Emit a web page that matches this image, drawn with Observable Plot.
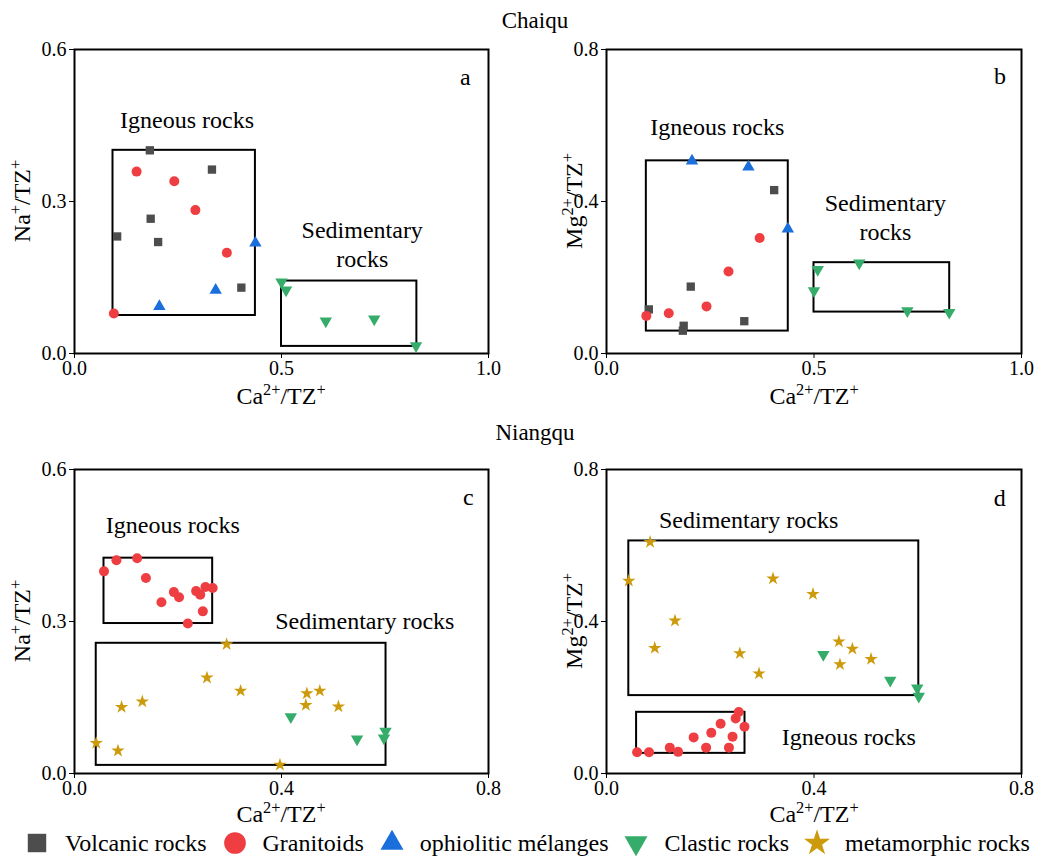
<!DOCTYPE html>
<html><head><meta charset="utf-8">
<script src="https://cdn.jsdelivr.net/npm/d3@7"></script>
<script src="https://cdn.jsdelivr.net/npm/@observablehq/plot@0.6"></script>
<style>
body{margin:0;background:#fff;}
#fig{position:relative;width:1037px;height:856px;font-family:"Liberation Serif","Times New Roman",serif;color:#000;overflow:hidden;background:#fff;}
.abs{position:absolute;white-space:nowrap;line-height:1;}
.title{font-size:23px;transform:translate(-50%,-50%);}
.xlab{font-size:24px;transform:translate(-50%,-50%);}
.ylab{font-size:24px;transform:translate(-50%,-50%) rotate(-90deg);}
sup{font-size:0.68em;line-height:0;vertical-align:0.55em;}
#legend{display:flex;align-items:center;font-size:24px;}
#legend svg{margin-right:15px;display:block;}
#legend span{margin-right:15px;}
</style>
</head><body><div id="fig"></div>
<script>
// ---------- Series names & colours ----------
const types = ["Volcanic rocks","Granitoids","ophiolitic mélanges","Clastic rocks","metamorphic rocks"];
const colors = ["#4d4d4d","#ee3e42","#1b6fdc","#36ac6b","#cc9a0a"];

// ---------- Panel a (Chaiqu, Na+/TZ+ vs Ca2+/TZ+) ----------
const aVolcanic = [[0.182,0.401],[0.332,0.363],[0.184,0.266],[0.103,0.231],[0.202,0.220],[0.403,0.130]];
const aGranitoids = [[0.150,0.359],[0.241,0.340],[0.292,0.283],[0.368,0.199],[0.095,0.079]];
const aOphiolitic = [[0.437,0.218],[0.341,0.125],[0.205,0.093]];
const aClastic = [[0.500,0.141],[0.511,0.125],[0.607,0.064],[0.724,0.068],[0.825,0.015]];
const aBoxes = [[0.093,0.437,0.075,0.401],[0.500,0.827,0.014,0.143]];
const aLabels = [["Igneous rocks",0.272,0.463],["Sedimentary\nrocks",0.695,0.218],["a",0.944,0.549]];

// ---------- Panel b (Chaiqu, Mg2+/TZ+ vs Ca2+/TZ+) ----------
const bVolcanic = [[0.102,0.116],[0.203,0.176],[0.186,0.073],[0.184,0.060],[0.404,0.430],[0.332,0.085]];
const bGranitoids = [[0.096,0.099],[0.150,0.106],[0.241,0.124],[0.294,0.216],[0.369,0.304]];
const bOphiolitic = [[0.206,0.507],[0.342,0.491],[0.437,0.328]];
const bClastic = [[0.509,0.221],[0.500,0.165],[0.609,0.238],[0.725,0.112],[0.826,0.108]];
const bBoxes = [[0.096,0.438,0.059,0.507],[0.500,0.827,0.109,0.239]];
const bLabels = [["Igneous rocks",0.267,0.598],["Sedimentary\nrocks",0.672,0.362],["b",0.948,0.733]];

// ---------- Panel c (Niangqu, Na+/TZ+ vs Ca2+/TZ+) ----------
const cGranitoids = [[0.057,0.399],[0.081,0.421],[0.121,0.425],[0.138,0.386],[0.168,0.338],[0.192,0.358],[0.202,0.348],[0.235,0.360],[0.243,0.353],[0.253,0.368],[0.267,0.366],[0.248,0.320],[0.219,0.296]];
const cClastic = [[0.418,0.112],[0.546,0.068],[0.601,0.083],[0.598,0.070]];
const cMetamorphic = [[0.042,0.060],[0.084,0.045],[0.091,0.131],[0.131,0.142],[0.256,0.189],[0.294,0.255],[0.321,0.163],[0.449,0.158],[0.447,0.135],[0.474,0.163],[0.510,0.132],[0.397,0.017]];
const cBoxes = [[0.057,0.267,0.296,0.425],[0.042,0.602,0.016,0.257]];
const cLabels = [["Igneous rocks",0.190,0.493],["Sedimentary rocks",0.561,0.304],["c",0.761,0.549]];

// ---------- Panel d (Niangqu, Mg2+/TZ+ vs Ca2+/TZ+) ----------
const dGranitoids = [[0.059,0.056],[0.082,0.056],[0.122,0.068],[0.138,0.057],[0.168,0.095],[0.192,0.068],[0.202,0.107],[0.220,0.131],[0.236,0.068],[0.243,0.097],[0.249,0.145],[0.255,0.162],[0.266,0.123]];
const dClastic = [[0.418,0.313],[0.547,0.245],[0.599,0.225],[0.602,0.203]];
const dMetamorphic = [[0.043,0.507],[0.084,0.609],[0.093,0.330],[0.132,0.402],[0.257,0.316],[0.294,0.263],[0.321,0.513],[0.398,0.472],[0.448,0.347],[0.450,0.287],[0.474,0.328],[0.510,0.301]];
const dBoxes = [[0.043,0.602,0.205,0.612],[0.058,0.267,0.053,0.161]];
const dLabels = [["Sedimentary rocks",0.274,0.670],["Igneous rocks",0.467,0.099],["d",0.758,0.727]];

// ---------- Ticks ----------
const xTicksTop = [0, 0.5, 1.0];
const xTicksBottom = [0, 0.4, 0.8];
const yTicksNa = [0, 0.3, 0.6];
const yTicksMg = [0, 0.4, 0.8];

// ---------- Symbols ----------
const triDown = {
  draw(ctx, size) {
    const s3 = Math.sqrt(3);
    const y = -Math.sqrt(size / (s3 * 3));
    ctx.moveTo(0, -y * 2);
    ctx.lineTo(-s3 * y, y);
    ctx.lineTo(s3 * y, y);
    ctx.closePath();
  }
};
const symbols = [d3.symbolSquare, d3.symbolCircle, d3.symbolTriangle, triDown, d3.symbolStar];
const radii = [4.7, 5, 4.6, 4.6, 4.2];
// legend symbol areas (px^2)
const legendAreas = [340, 370, 230, 230, 215];

const FONT = "'Liberation Serif','Times New Roman',serif";
const fig = document.getElementById("fig");

function makePanel(cfg) {
  const marks = [
    Plot.frame({stroke: "black", strokeWidth: 2}),
    Plot.rect(cfg.boxes, {x1: d => d[0], x2: d => d[1], y1: d => d[2], y2: d => d[3], fill: "none", stroke: "black", strokeWidth: 2})
  ];
  for (const s of cfg.series) {
    const i = types.indexOf(s.type);
    marks.push(Plot.dot(s.data, {x: d => d[0], y: d => d[1], symbol: symbols[i], fill: colors[i], r: radii[i]}));
  }
  marks.push(Plot.text(cfg.labels, {x: d => d[1], y: d => d[2], text: d => d[0], fontSize: 24, lineHeight: 1.2, fill: "black"}));
  const svg = Plot.plot({
    width: cfg.width, height: 400,
    marginLeft: cfg.marginLeft, marginRight: cfg.marginRight, marginTop: 49, marginBottom: 47,
    style: {fontFamily: FONT, fontSize: "20px", background: "transparent", overflow: "visible", color: "black"},
    x: {domain: [cfg.xTicks[0], cfg.xTicks[2]], ticks: cfg.xTicks, tickFormat: d3.format(".1f"), tickSize: 5, tickPadding: 2, label: null},
    y: {domain: [cfg.yTicks[0], cfg.yTicks[2]], ticks: cfg.yTicks, tickFormat: d3.format(".1f"), tickSize: 5, tickPadding: 3, label: null},
    marks
  });
  svg.style.position = "absolute";
  svg.style.left = cfg.left + "px";
  svg.style.top = cfg.top + "px";
  fig.appendChild(svg);
}

makePanel({left: 0, top: 0, width: 518, marginLeft: 74, marginRight: 30, xTicks: xTicksTop, yTicks: yTicksNa,
  boxes: aBoxes, labels: aLabels,
  series: [{type: types[0], data: aVolcanic},{type: types[1], data: aGranitoids},{type: types[2], data: aOphiolitic},{type: types[3], data: aClastic}]});
makePanel({left: 518, top: 0, width: 519, marginLeft: 88, marginRight: 16, xTicks: xTicksTop, yTicks: yTicksMg,
  boxes: bBoxes, labels: bLabels,
  series: [{type: types[0], data: bVolcanic},{type: types[1], data: bGranitoids},{type: types[2], data: bOphiolitic},{type: types[3], data: bClastic}]});
makePanel({left: 0, top: 420, width: 518, marginLeft: 74, marginRight: 30, xTicks: xTicksBottom, yTicks: yTicksNa,
  boxes: cBoxes, labels: cLabels,
  series: [{type: types[4], data: cMetamorphic},{type: types[1], data: cGranitoids},{type: types[3], data: cClastic}]});
makePanel({left: 518, top: 420, width: 519, marginLeft: 88, marginRight: 16, xTicks: xTicksBottom, yTicks: yTicksMg,
  boxes: dBoxes, labels: dLabels,
  series: [{type: types[4], data: dMetamorphic},{type: types[1], data: dGranitoids},{type: types[3], data: dClastic}]});

// ---------- Text: titles and axis labels ----------
function addText(cls, html, x, y) {
  const el = document.createElement("div");
  el.className = "abs " + cls;
  el.innerHTML = html;
  el.style.left = x + "px";
  el.style.top = y + "px";
  fig.appendChild(el);
}
const caLabel = "Ca<sup>2+</sup>/TZ<sup>+</sup>";
const naLabel = "Na<sup>+</sup>/TZ<sup>+</sup>";
const mgLabel = "Mg<sup>2+</sup>/TZ<sup>+</sup>";
addText("title", "Chaiqu", 535, 20);
addText("title", "Niangqu", 535, 432);
addText("xlab", caLabel, 281, 396);
addText("xlab", caLabel, 814, 396);
addText("xlab", caLabel, 281, 814);
addText("xlab", caLabel, 814, 814);
addText("ylab", naLabel, 22, 201);
addText("ylab", mgLabel, 574, 201);
addText("ylab", naLabel, 22, 621);
addText("ylab", mgLabel, 574, 621);

// ---------- Legend ----------
const legend = document.createElement("div");
legend.id = "legend";
legend.className = "abs";
legend.style.left = "24px";
legend.style.top = "829px";
types.forEach((t, i) => {
  const s = d3.create("svg").attr("width", 26).attr("height", 28);
  s.append("path").attr("transform", "translate(13,14)").attr("fill", colors[i]).attr("d", d3.symbol(symbols[i], legendAreas[i])());
  legend.appendChild(s.node());
  const sp = document.createElement("span");
  sp.textContent = t;
  legend.appendChild(sp);
});
fig.appendChild(legend);
</script>
</body></html>
